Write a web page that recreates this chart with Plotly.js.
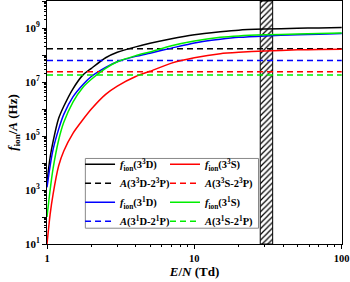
<!DOCTYPE html>
<html><head><meta charset="utf-8">
<script src="https://cdn.plot.ly/plotly-3.0.1.min.js"></script>
<style>html,body{margin:0;padding:0;background:#fff}#chart{width:350px;height:282px}</style>
</head><body><div id="chart"></div>
<script>
// Reduced field E/N (Td)
const energy = [1, 1.05, 1.1, 1.2, 1.3, 1.5, 1.75, 2, 2.5, 3, 4, 5, 7, 10, 15, 20, 30, 50, 70, 100];
// Ionization frequencies (Hz)
const fIon33D = [2.0e3, 1.6e4, 6.3e4, 4.5e5, 1.26e6, 5.6e6, 1.8e7, 3.2e7, 7.9e7, 1.26e8, 2.0e8, 2.7e8, 4.0e8, 5.6e8, 7.2e8, 8.3e8, 9.1e8, 9.8e8, 1.0e9, 1.05e9];
const fIon33S = [1.0e1, 1.26e2, 7.1e2, 7.9e3, 2.8e4, 1.26e5, 4.0e5, 1.0e6, 3.5e6, 7.1e6, 1.6e7, 2.5e7, 5.0e7, 7.9e7, 1.12e8, 1.26e8, 1.4e8, 1.55e8, 1.6e8, 1.65e8];
const fIon31D = [1.26e3, 7.9e3, 3.2e4, 1.8e5, 6.3e5, 2.8e6, 7.9e6, 1.6e7, 3.5e7, 5.6e7, 8.9e7, 1.17e8, 1.8e8, 2.8e8, 3.8e8, 4.5e8, 5.1e8, 5.6e8, 5.9e8, 6.2e8];
const fIon31S = [1.0e2, 1.0e3, 6.3e3, 7.1e4, 3.2e5, 1.8e6, 6.3e6, 1.26e7, 3.2e7, 5.6e7, 9.5e7, 1.3e8, 2.2e8, 3.3e8, 4.5e8, 5.1e8, 5.6e8, 6.0e8, 6.3e8, 6.5e8];
// Einstein coefficients (Hz)
const A33D23P = 1.7e8;
const A33S23P = 2.4e7;
const A31D21P = 6.2e7;
const A31S21P = 1.8e7;
// Axis ranges & hatched band (Td)
const xSpan = [1, 100];
const ySpan = [1e1, 1e10];
const band = [28, 34];
const xTickVals = [1, 10, 100];
const xTickText = ['1', '10', '100'];
const yTickVals = [1e1, 1e2, 1e3, 1e4, 1e5, 1e6, 1e7, 1e8, 1e9, 1e10];
const yTickText = ['10<sup>1</sup>', '', '10<sup>3</sup>', '', '10<sup>5</sup>', '', '10<sup>7</sup>', '', '10<sup>9</sup>', ''];

function minorVals(lo, hi) {
  const v = [];
  for (let d = lo; d < hi; d *= 10) for (let k = 2; k <= 9; k++) v.push(d * k);
  return v;
}

const FONT = 'Liberation Serif, Times New Roman, serif';
const lw = 1.5;
const dashStyle = '6px,4px';

function solid(name, y, color, legend) {
  return {x: energy, y: y, type: 'scatter', mode: 'lines', name: name, legend: legend,
    line: {color: color, width: lw, shape: 'spline', smoothing: 0.6}};
}
function dashed(name, a, color, legend) {
  return {x: xSpan, y: [a, a], type: 'scatter', mode: 'lines', name: name, legend: legend,
    line: {color: color, width: lw, dash: dashStyle}};
}

const traces = [
  {x: [band[0], band[1], band[1], band[0], band[0]], y: [ySpan[0], ySpan[0], ySpan[1], ySpan[1], ySpan[0]],
   type: 'scatter', mode: 'lines', fill: 'toself', showlegend: false, hoverinfo: 'skip',
   line: {color: '#000', width: 1},
   fillpattern: {shape: '/', fgcolor: '#000', bgcolor: '#fff', size: 4, solidity: 0.3}},
  solid('<i>f</i><sub>ion</sub>(3<sup>3</sup>D)', fIon33D, '#000000', 'legend'),
  dashed('<i>A</i>(3<sup>3</sup>D-2<sup>3</sup>P)', A33D23P, '#000000', 'legend'),
  solid('<i>f</i><sub>ion</sub>(3<sup>1</sup>D)', fIon31D, '#0000ff', 'legend'),
  dashed('<i>A</i>(3<sup>1</sup>D-2<sup>1</sup>P)', A31D21P, '#0000ff', 'legend'),
  solid('<i>f</i><sub>ion</sub>(3<sup>3</sup>S)', fIon33S, '#ff0000', 'legend2'),
  dashed('<i>A</i>(3<sup>3</sup>S-2<sup>3</sup>P)', A33S23P, '#ff0000', 'legend2'),
  solid('<i>f</i><sub>ion</sub>(3<sup>1</sup>S)', fIon31S, '#00ee00', 'legend2'),
  dashed('<i>A</i>(3<sup>1</sup>S-2<sup>1</sup>P)', A31S21P, '#00ee00', 'legend2')
];

const legendCommon = {
  bgcolor: 'rgba(0,0,0,0)', borderwidth: 0, orientation: 'v',
  font: {family: FONT, size: 10.5, color: '#000', weight: 'bold'},
  itemwidth: 30, tracegroupgap: 0, xanchor: 'left', yanchor: 'top', traceorder: 'normal'
};

const layout = {
  width: 350, height: 282,
  margin: {l: 47, r: 8, t: 1, b: 38},
  paper_bgcolor: '#fff', plot_bgcolor: '#fff',
  font: {family: FONT, color: '#000'},
  showlegend: true,
  legend: Object.assign({}, legendCommon, {x: 0.112, y: 0.388}),
  legend2: Object.assign({}, legendCommon, {x: 0.4, y: 0.388}),
  shapes: [{type: 'rect', xref: 'paper', yref: 'paper', x0: 0.13, x1: 0.717, y0: 0.065, y1: 0.352,
    line: {color: '#888', width: 1}, fillcolor: '#fff', layer: 'above'}],
  xaxis: {
    type: 'log', range: [Math.log10(xSpan[0]), Math.log10(xSpan[1]) + 0.002],
    tickmode: 'array', tickvals: xTickVals, ticktext: xTickText, ticklabeloverflow: 'allow',
    ticks: 'outside', ticklen: 4, tickcolor: '#000', tickwidth: 1,
    minor: {tickmode: 'array', tickvals: minorVals(1, 100), ticks: 'outside', ticklen: 2, tickcolor: '#000', showgrid: false},
    showline: true, linecolor: '#000', linewidth: 1, mirror: true,
    showgrid: false, zeroline: false,
    tickfont: {family: FONT, size: 10.5, color: '#000', weight: 'bold'},
    title: {text: '<i>E</i>/<i>N</i> (Td)', font: {family: FONT, size: 13, color: '#000', weight: 'bold'}, standoff: 0}
  },
  yaxis: {
    type: 'log', range: [Math.log10(ySpan[0]), Math.log10(ySpan[1])],
    tickmode: 'array', tickvals: yTickVals, ticktext: yTickText,
    ticks: 'outside', ticklen: 4, tickcolor: '#000', tickwidth: 1,
    minor: {tickmode: 'array', tickvals: minorVals(1e1, 1e10), ticks: 'outside', ticklen: 2, tickcolor: '#000', showgrid: false},
    showline: true, linecolor: '#000', linewidth: 1, mirror: true,
    showgrid: false, zeroline: false,
    tickfont: {family: FONT, size: 11, color: '#000', weight: 'bold'},
    title: {text: '<i>f</i><sub>ion</sub>/<i>A</i> (Hz)', font: {family: FONT, size: 13, color: '#000', weight: 'bold'}, standoff: 4}
  }
};

Plotly.newPlot('chart', traces, layout, {staticPlot: true, displayModeBar: false});
</script>
</body></html>
